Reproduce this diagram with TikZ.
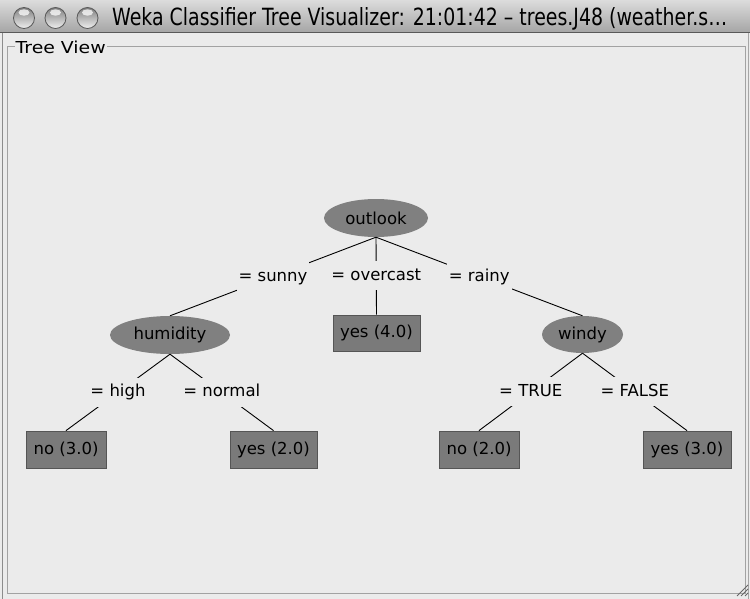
\documentclass[tikz,border=0pt]{standalone}
\usepackage{fontspec}
\usepackage{graphicx}
\setmainfont{DejaVu Sans}
\usetikzlibrary{shapes.geometric}
\definecolor{bg}{HTML}{EBEBEB}
\definecolor{nodegray}{HTML}{808080}
\definecolor{boxgray}{HTML}{7A7A7A}
\definecolor{boxedge}{HTML}{555555}
\definecolor{framegray}{HTML}{A2A2A2}
\definecolor{bartop}{HTML}{DCDCDC}
\definecolor{barbot}{HTML}{A6A6A6}
\begin{document}
\begin{tikzpicture}[x=1pt,y=-1pt,
  treefont/.style={font=\fontsize{16.5}{18}\selectfont},
  splitnode/.style={treefont, ellipse, fill=nodegray, inner sep=0pt},
  leafbox/.style={treefont, rectangle, fill=boxgray, draw=boxedge, line width=0.8pt, inner sep=0pt},
  edgelab/.style={treefont, fill=bg, inner xsep=2pt, inner ysep=0pt, text height=12.5pt, text depth=3.5pt, minimum height=29pt},
  edge/.style={black, line width=0.9pt},
  btn/.style={draw=black!65, line width=0.8pt, top color=black!50, bottom color=black!6}
]
\useasboundingbox (0,0) rectangle (750,599);
% window background
\fill[bg] (0,0) rectangle (750,599);
% title bar
\shade[top color=bartop, bottom color=barbot] (0,0) rectangle (750,32);
\draw[black!65, line width=1pt] (0,32.5) -- (750,32.5);
% window buttons
\foreach \cx in {24,55.5,87.5} {
  \shadedraw[btn] (\cx,18) circle (10.5);
  \fill[white, opacity=0.75] (\cx,12.5) ellipse (5.5 and 3.2);
}
\node[anchor=base west, inner sep=0pt] (title) at (112,26)
  {\resizebox{615pt}{18pt}{Weka Classifier Tree Visualizer: 21:01:42 – trees.J48 (weather.s…}};
% window edges
\draw[black!45, line width=1pt] (2,33) -- (2,599);
\draw[black!35, line width=0.8pt] (748.5,33) -- (748.5,599);
% group frame
\draw[framegray, line width=1pt] (7.5,46.5) rectangle (745.5,593.5);
\node[anchor=base west, fill=bg, inner xsep=1pt, inner ysep=1.5pt] (treeview) at (14.5,54)
  {\resizebox{90pt}{12.5pt}{Tree View}};
% resize grip
\foreach \d in {0,4,8} {
  \draw[black!60, line width=0.9pt] (748,585+\d) -- (737+\d,596);
}
% tree nodes
\node[splitnode, minimum width=104pt, minimum height=38pt] (outlook) at (376,218) {outlook};
\node[splitnode, minimum width=120pt, minimum height=38pt] (humidity) at (170,335) {humidity};
\node[splitnode, minimum width=81pt, minimum height=37pt] (windy) at (582.5,334.5) {windy};
\node[leafbox, minimum width=87pt, minimum height=36pt] (yes4) at (376.5,333) {yes (4.0)};
\node[leafbox, minimum width=80pt, minimum height=37pt] (no3) at (66,449.5) {no (3.0)};
\node[leafbox, minimum width=87pt, minimum height=37pt] (yes2) at (273.5,449.5) {yes (2.0)};
\node[leafbox, minimum width=80pt, minimum height=37pt] (no2) at (479,449.5) {no (2.0)};
\node[leafbox, minimum width=88pt, minimum height=37pt] (yes3) at (687,449.5) {yes (3.0)};
% edges with labels
\draw[edge] (outlook.south) -- node[edgelab] (lsunny) {= sunny} (humidity.north);
\draw[edge] (outlook.south) -- node[edgelab] (lovercast) {= overcast} (yes4.north);
\draw[edge] (outlook.south) -- node[edgelab] (lrainy) {= rainy} (windy.north);
\draw[edge] (humidity.south) -- node[edgelab] (lhigh) {= high} (no3.north);
\draw[edge] (humidity.south) -- node[edgelab] (lnormal) {= normal} (yes2.north);
\draw[edge] (windy.south) -- node[edgelab] (ltrue) {= TRUE} (no2.north);
\draw[edge] (windy.south) -- node[edgelab] (lfalse) {= FALSE} (yes3.north);
\end{tikzpicture}
\end{document}
